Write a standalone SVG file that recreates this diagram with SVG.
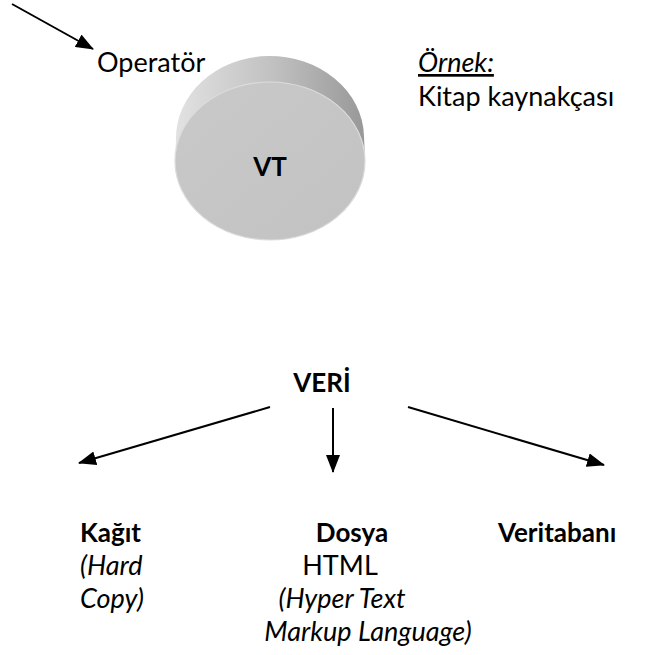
<svg xmlns="http://www.w3.org/2000/svg" width="663" height="655" viewBox="0 0 663 655">
  <style>
    text { font-family: Lato, "Open Sans", "Liberation Sans", sans-serif; font-size: 27px; fill: #000; }
    .b { font-weight: bold; font-size: 26px; }
    .i { font-style: italic; }
    .c { text-anchor: middle; }
    .edge { stroke: #000; stroke-width: 2; fill: none; marker-end: url(#head); }
  </style>
  <defs>
    <marker id="head" markerWidth="18" markerHeight="14" refX="17" refY="7" orient="auto" markerUnits="userSpaceOnUse" viewBox="0 0 18 14">
      <path d="M0,0 L18,7 L0,14 z" fill="#000"/>
    </marker>
    <linearGradient id="side" x1="0" y1="0" x2="1" y2="0">
      <stop offset="0" stop-color="#e2e2e2"/>
      <stop offset="0.5" stop-color="#c2c2c2"/>
      <stop offset="1" stop-color="#989898"/>
    </linearGradient>
    <linearGradient id="face" x1="0" y1="0" x2="1" y2="1">
      <stop offset="0" stop-color="#c9c9c9"/>
      <stop offset="1" stop-color="#c2c2c2"/>
    </linearGradient>
  </defs>

  <!-- connectors -->
  <g id="connectors">
    <line class="edge" x1="12" y1="4" x2="93" y2="49"/>
    <line class="edge" x1="270" y1="407" x2="79" y2="463"/>
    <line class="edge" x1="333" y1="408" x2="333" y2="472"/>
    <line class="edge" x1="408" y1="407" x2="604" y2="465"/>
  </g>

  <g id="operator">
    <text x="97" y="72">Operatör</text>
  </g>

  <g id="example">
    <text x="418" y="72" class="i" text-decoration="underline">Örnek:</text>
    <text x="418" y="106">Kitap kaynakçası</text>
  </g>

  <!-- database cylinder seen from the front, top edge showing -->
  <g id="vt">
    <path d="M176,140 A94,82 0 0 1 364,136 L365,161 A95,79 0 0 1 175,161 Z" fill="url(#side)"/>
    <ellipse cx="270" cy="161" rx="95" ry="79" fill="url(#face)" stroke="#dcdcdc" stroke-width="1.2"/>
    <text x="270" y="176" class="b c">VT</text>
  </g>

  <g id="veri">
    <text x="322" y="392" class="b c">VERİ</text>
  </g>

  <g id="kagit">
    <text x="80" y="542" class="b">Kağıt</text>
    <text x="80" y="575" class="i">(Hard</text>
    <text x="80" y="608" class="i">Copy)</text>
  </g>

  <g id="dosya">
    <text x="352" y="542" class="b c">Dosya</text>
    <text x="340" y="575" class="c">HTML</text>
    <text x="342" y="608" class="i c">(Hyper Text</text>
    <text x="368" y="641" class="i c">Markup Language)</text>
  </g>

  <g id="veritabani">
    <text x="498" y="542" class="b">Veritabanı</text>
  </g>
</svg>
